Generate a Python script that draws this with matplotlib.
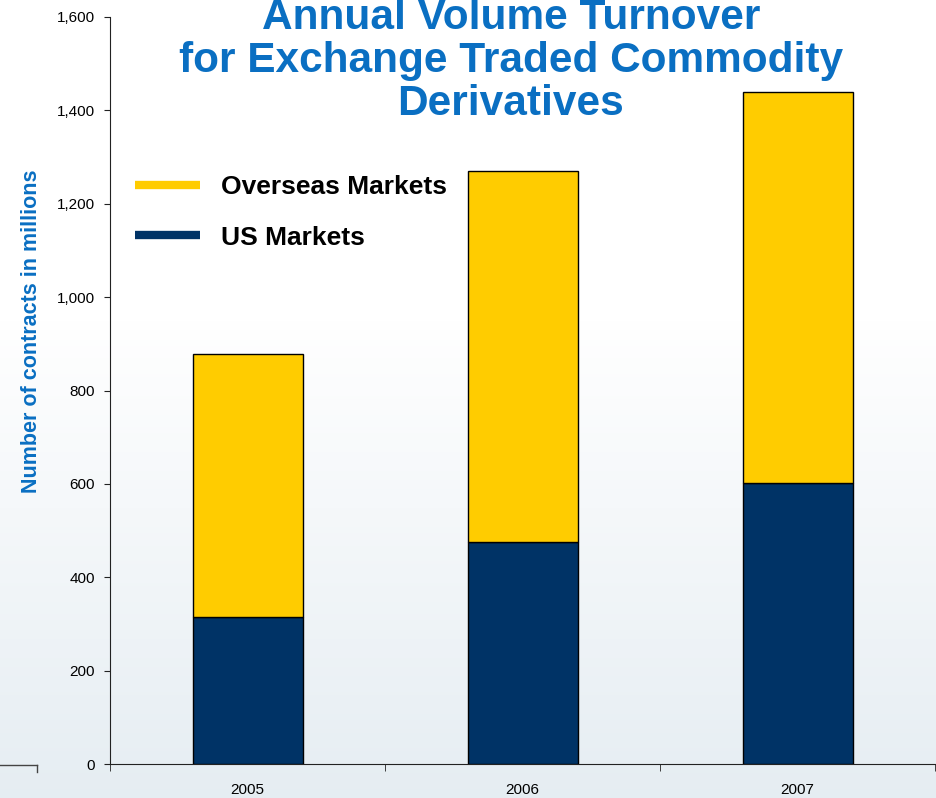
import numpy as np
import matplotlib
matplotlib.use("Agg")
import matplotlib.pyplot as plt
from matplotlib.lines import Line2D

# dados
years = ["2005", "2006", "2007"]
us_markets = [315, 475, 602]
overseas_markets = [563, 795, 837]   # parte superior das barras
yticks = [0, 200, 400, 600, 800, 1000, 1200, 1400, 1600]

navy = "#003366"
yellow = "#FFCC00"
title_blue = "#0A6FC2"
tick_font = ["Liberation Sans Narrow", "Liberation Sans", "DejaVu Sans"]

plt.rcParams["font.family"] = ["Liberation Sans", "DejaVu Sans"]

fig = plt.figure(figsize=(9.37, 7.98), dpi=100)

# fundo em degrade (branco em cima, azul acinzentado embaixo)
bg = fig.add_axes([0, 0, 1, 1], zorder=-10)
grad = np.linspace(0, 1, 256).reshape(-1, 1)
grad = np.clip((grad - 0.4) / 0.6, 0, 1)
top_c = np.array([1.0, 1.0, 1.0])
bot_c = np.array([0.90, 0.93, 0.95])
img = top_c + (bot_c - top_c) * grad[:, :, None]
bg.imshow(img, aspect="auto", extent=[0, 1, 0, 1], origin="upper")
bg.plot([0, 0.0395], [0.041, 0.041], color="#444444", lw=1)
bg.plot([0.0395, 0.0395], [0.041, 0.033], color="#444444", lw=1)
bg.set_xlim(0, 1)
bg.set_ylim(0, 1)
bg.axis("off")

ax = fig.add_axes([110 / 937, 34 / 798, 825 / 937, 747 / 798])
ax.patch.set_alpha(0)

x = np.arange(len(years))
ax.bar(x, us_markets, width=0.4, color=navy, edgecolor="black", linewidth=1, zorder=3)
ax.bar(x, overseas_markets, width=0.4, bottom=us_markets, color=yellow,
       edgecolor="black", linewidth=1, zorder=3)

ax.set_xlim(-0.5, 2.5)
ax.set_ylim(0, 1600)
ax.set_yticks(yticks)
ax.set_yticklabels([f"{v:,}" for v in yticks], family=tick_font, fontsize=11)
ax.set_xticks(x)
ax.set_xticklabels(years, family=tick_font, fontsize=11)
ax.set_xticks([-0.5, 0.5, 1.5, 2.5], minor=True)
ax.tick_params(axis="x", which="major", length=0, pad=14)
ax.tick_params(axis="x", which="minor", length=5, direction="out", color="#222222")
ax.tick_params(axis="y", length=4, direction="out", color="#222222", pad=7)
ax.spines["top"].set_visible(False)
ax.spines["right"].set_visible(False)
ax.spines["left"].set_color("#222222")
ax.spines["bottom"].set_color("#222222")

ax.set_ylabel("Number of contracts in millions", color=title_blue, fontsize=15.5,
              fontweight="bold")
ax.yaxis.set_label_coords(-68 / 825, (764 - 331) / 747)

fig.text(511 / 937, 1 - 61 / 798, "Annual Volume Turnover\nfor Exchange Traded Commodity\nDerivatives",
         ha="center", va="center", color=title_blue, fontsize=30.5, fontweight="bold",
         linespacing=1.1)

handles = [Line2D([0], [0], color=yellow, lw=6, solid_capstyle="butt"),
           Line2D([0], [0], color=navy, lw=6, solid_capstyle="butt")]
ax.legend(handles, ["Overseas Markets", "US Markets"], loc="upper left",
          bbox_to_anchor=(0.002, 0.82), frameon=False, handlelength=2.45,
          handletextpad=0.78, labelspacing=1.0,
          prop={"weight": "bold", "size": 19})

fig.savefig("out.png", dpi=100)
